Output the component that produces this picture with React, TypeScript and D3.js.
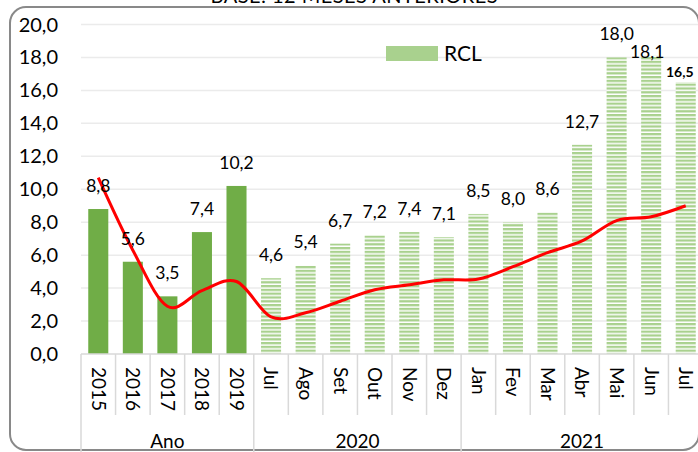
import React from "react";
import * as d3 from "d3";

// categories: year totals then monthly values
const years = ["2015", "2016", "2017", "2018", "2019"];
const months2020 = ["Jul", "Ago", "Set", "Out", "Nov", "Dez"];
const months2021 = ["Jan", "Fev", "Mar", "Abr", "Mai", "Jun", "Jul"];
const groupLabels = ["Ano", "2020", "2021"];

const yearValues = [8.8, 5.6, 3.5, 7.4, 10.2];
const values2020 = [4.6, 5.4, 6.7, 7.2, 7.4, 7.1];
const values2021 = [8.5, 8.0, 8.6, 12.7, 18.0, 18.1, 16.5];

// red trend line
const trendValues = [10.7, 6.3, 2.9, 3.85, 4.4, 2.25, 2.5, 3.2, 3.9, 4.2, 4.5, 4.55, 5.3, 6.15, 6.86, 8.1, 8.33, 9.0];

const yTicks = [0, 2, 4, 6, 8, 10, 12, 14, 16, 18, 20];

const W = 698;
const H = 452;
const FONT = "Lato, 'Open Sans', sans-serif";
const fmt = (v: number) => d3.format(".1f")(v).replace(".", ",");

type Cat = { key: number; label: string; group: number; value: number; solid: boolean };

const cats: Cat[] = [
  ...years.map((l, i) => ({ label: l, group: 0, value: yearValues[i], solid: true })),
  ...months2020.map((l, i) => ({ label: l, group: 1, value: values2020[i], solid: false })),
  ...months2021.map((l, i) => ({ label: l, group: 2, value: values2021[i], solid: false })),
].map((c, i) => ({ ...c, key: i }));

export default function App() {
  const x = d3
    .scaleBand<number>()
    .domain(cats.map((c) => c.key))
    .range([81, 703])
    .paddingInner(0.42)
    .paddingOuter(0.21);
  const step = x.step();
  const left = 81;
  const y = d3.scaleLinear().domain([0, 20]).range([354, 24.5]);
  const cx = (i: number) => (x(i) as number) + x.bandwidth() / 2;

  const line = d3
    .line<number>()
    .x((_, i) => cx(i))
    .y((d) => y(d))
    .curve(d3.curveCatmullRom.alpha(0));

  const groupBounds = groupLabels.map((_, g) => {
    const idx = cats.filter((c) => c.group === g).map((c) => c.key);
    return [left + idx[0] * step, left + (idx[idx.length - 1] + 1) * step];
  });

  return (
    <div style={{ position: "fixed", left: 0, top: 0 }}>
      <svg width={W} height={H} style={{ display: "block", fontFamily: FONT }}>
        <defs>
          <pattern id="stripes" width="6" height="3.8" patternUnits="userSpaceOnUse">
            <rect width="6" height="3.8" fill="#fff" />
            <rect width="6" height="2.3" fill="#A9D18E" />
          </pattern>
        </defs>
        <rect width={W} height={H} fill="#fff" />
        <text x={354} y={3} textAnchor="middle" fontSize={20} textLength={287} fill="#000">
          BASE: 12 MESES ANTERIORES
        </text>
        <rect x={10} y={7} width={689} height={443} rx={16} fill="#fff" stroke="#898989" strokeWidth={2} />

        {/* grid + y ticks */}
        {yTicks.map((t) => (
          <g key={t}>
            {t > 0 && <line x1={81} x2={698} y1={y(t)} y2={y(t)} stroke="#ebebeb" strokeWidth={1.5} />}
            <text x={58} y={y(t)} dy="0.35em" textAnchor="end" fontSize={20} fill="#000">
              {fmt(t)}
            </text>
          </g>
        ))}

        {/* bars */}
        {cats.map((c) => (
          <rect
            key={c.key}
            x={x(c.key)}
            y={y(c.value)}
            width={x.bandwidth()}
            height={y(0) - y(c.value)}
            fill={c.solid ? "#70AD47" : "url(#stripes)"}
          />
        ))}

        {/* trend */}
        <path d={line(trendValues) || ""} fill="none" stroke="#FF0000" strokeWidth={3} />

        {/* data labels */}
        {cats.map((c) => {
          const last = c.key === cats.length - 1;
          const jun = c.key === cats.length - 2;
          const dx = last ? -6 : jun ? -4 : 0;
          const yy = last ? y(c.value) - 5 : jun ? y(c.value) + 2 : y(c.value) - 17;
          return (
            <text
              key={c.key}
              x={cx(c.key) + dx}
              y={yy}
              textAnchor="middle"
              fontSize={last ? 14 : 17.5}
              fontWeight={last ? 700 : 400}
              fill="#000"
            >
              {fmt(c.value)}
            </text>
          );
        })}

        {/* legend */}
        <rect x={386} y={46} width={52} height={15} fill="#A9D18E" />
        <text x={444} y={61} fontSize={21} fill="#000">
          RCL
        </text>

        {/* x axis */}
        <line x1={81} x2={703} y1={y(0)} y2={y(0)} stroke="#d9d9d9" strokeWidth={1.5} />
        {d3.range(cats.length + 1).map((i) => {
          const xx = left + i * step;
          const isGroupEdge = groupBounds.some((b) => Math.abs(b[0] - xx) < 0.5 || Math.abs(b[1] - xx) < 0.5);
          return (
            <line key={i} x1={xx} x2={xx} y1={y(0)} y2={isGroupEdge ? H : 415} stroke="#d9d9d9" strokeWidth={1.5} />
          );
        })}
        {cats.map((c) => (
          <text
            key={c.key}
            transform={`translate(${cx(c.key)},367) rotate(90)`}
            dy="0.35em"
            fontSize={19}
            fill="#000"
          >
            {c.label}
          </text>
        ))}
        {groupLabels.map((g, i) => (
          <text key={g} x={(groupBounds[i][0] + groupBounds[i][1]) / 2} y={448} textAnchor="middle" fontSize={19} fill="#000">
            {g}
          </text>
        ))}
      </svg>
    </div>
  );
}
